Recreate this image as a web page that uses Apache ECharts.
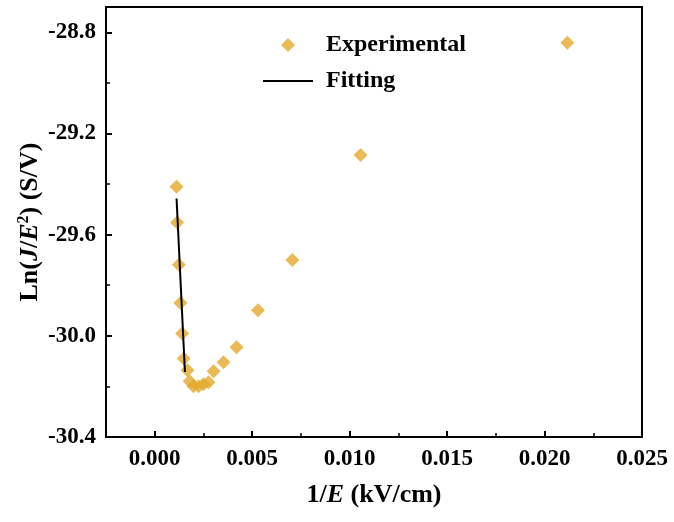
<!DOCTYPE html>
<html>
<head>
<meta charset="utf-8">
<script src="https://cdn.jsdelivr.net/npm/echarts@6/dist/echarts.min.js"></script>
<style>
html,body{margin:0;padding:0;background:#fff;}
#chart{width:674px;height:522px;}
</style>
</head>
<body>
<div id="chart"></div>
<script>
// Experimental data: 1/E (kV/cm) and Ln(J/E^2) (S/V)
const expX = [0.00112, 0.00115, 0.00124, 0.00132, 0.00141, 0.00149, 0.00168, 0.00179, 0.00199, 0.00225, 0.00250, 0.00276, 0.00302, 0.00353, 0.00420, 0.00530, 0.00706, 0.01056, 0.02117];
const expY = [-29.411, -29.552, -29.719, -29.870, -29.991, -30.090, -30.136, -30.180, -30.199, -30.199, -30.191, -30.184, -30.140, -30.104, -30.045, -29.899, -29.700, -29.285, -28.841];
// Fitting line endpoints
const fitX = [0.00112, 0.00155];
const fitY = [-29.457, -30.143];
// Tick values
const xMajor = [0, 0.005, 0.010, 0.015, 0.020, 0.025];
const xMinor = [0.0025, 0.0075, 0.0125, 0.0175, 0.0225];
const yMajor = [-30.4, -30.0, -29.6, -29.2, -28.8];
const yMinor = [-30.2, -29.8, -29.4, -29.0];

const FONT = '"Liberation Serif", "Times New Roman", serif';
const GOLD = '#E3A92B';

const chart = echarts.init(document.getElementById('chart'));
const xBase = {type: 'value', min: -0.0025, max: 0.025, position: 'bottom', splitLine: {show: false}};
const yBase = {type: 'value', min: -30.4, max: -28.7, position: 'left', splitLine: {show: false}};
const legendText = pad => ({fontFamily: FONT, fontWeight: 'bold', fontSize: 24, color: '#000', padding: [0, 0, 0, pad]});

chart.setOption({
  animation: false,
  backgroundColor: '#fff',
  grid: {left: 106, right: 32, top: 7, bottom: 85, show: true, borderColor: '#000', borderWidth: 2, backgroundColor: 'transparent'},
  legend: [
    {
      left: 281, top: 33, padding: 0, itemWidth: 14, itemHeight: 14,
      textStyle: legendText(26),
      data: [{name: 'Experimental', icon: 'diamond'}]
    },
    {
      left: 263, top: 69, padding: 0, itemWidth: 50, itemHeight: 2,
      textStyle: legendText(8),
      data: [{name: 'Fitting', icon: 'rect'}]
    }
  ],
  xAxis: [
    Object.assign({}, xBase, {
      name: '{n|1/}{i|E}{n| (kV/cm)}', nameLocation: 'middle', nameGap: 45, nameMoveOverlap: false,
      nameTextStyle: {rich: {
        n: {fontFamily: FONT, fontWeight: 'bold', fontSize: 26, color: '#000'},
        i: {fontFamily: FONT, fontWeight: 'bold', fontStyle: 'italic', fontSize: 26, color: '#000'}
      }},
      axisLine: {show: true, onZero: false, lineStyle: {color: '#000', width: 2}},
      axisTick: {show: true, inside: true, length: 6, lineStyle: {color: '#000', width: 2}, customValues: xMajor},
      axisLabel: {show: true, margin: 11, fontFamily: FONT, fontWeight: 'bold', fontSize: 23, color: '#000',
        customValues: xMajor, formatter: v => v.toFixed(3)}
    }),
    Object.assign({}, xBase, {
      offset: 0,
      axisLine: {show: false, onZero: false},
      axisTick: {show: true, inside: true, length: 4, lineStyle: {color: '#000', width: 1.5}, customValues: xMinor},
      axisLabel: {show: false}
    })
  ],
  yAxis: [
    Object.assign({}, yBase, {
      name: '{n|Ln(}{i|J}{n|/}{i|E}{s|2}{n|) (S/V)}', nameLocation: 'middle', nameGap: 62, nameRotate: 90, nameMoveOverlap: false,
      nameTextStyle: {rich: {
        n: {fontFamily: FONT, fontWeight: 'bold', fontSize: 26, color: '#000'},
        i: {fontFamily: FONT, fontWeight: 'bold', fontStyle: 'italic', fontSize: 26, color: '#000'},
        s: {fontFamily: FONT, fontWeight: 'bold', fontSize: 16, color: '#000', padding: [0, 0, 12, 0]}
      }},
      axisLine: {show: true, onZero: false, lineStyle: {color: '#000', width: 2}},
      axisTick: {show: true, inside: true, length: 6, lineStyle: {color: '#000', width: 2}, customValues: yMajor},
      axisLabel: {show: true, margin: 10, fontFamily: FONT, fontWeight: 'bold', fontSize: 23, color: '#000',
        customValues: yMajor, formatter: v => v.toFixed(1)}
    }),
    Object.assign({}, yBase, {
      offset: 0,
      axisLine: {show: false, onZero: false},
      axisTick: {show: true, inside: true, length: 4, lineStyle: {color: '#000', width: 1.5}, customValues: yMinor},
      axisLabel: {show: false}
    })
  ],
  series: [
    {
      name: 'Experimental', type: 'scatter', symbol: 'diamond', symbolSize: 14,
      itemStyle: {color: GOLD},
      data: expX.map((x, i) => [x, expY[i]]), z: 3
    },
    {
      name: 'Fitting', type: 'line', symbol: 'none',
      lineStyle: {color: '#000', width: 2}, itemStyle: {color: '#000'},
      data: fitX.map((x, i) => [x, fitY[i]]), z: 4
    }
  ]
});
</script>
</body>
</html>
